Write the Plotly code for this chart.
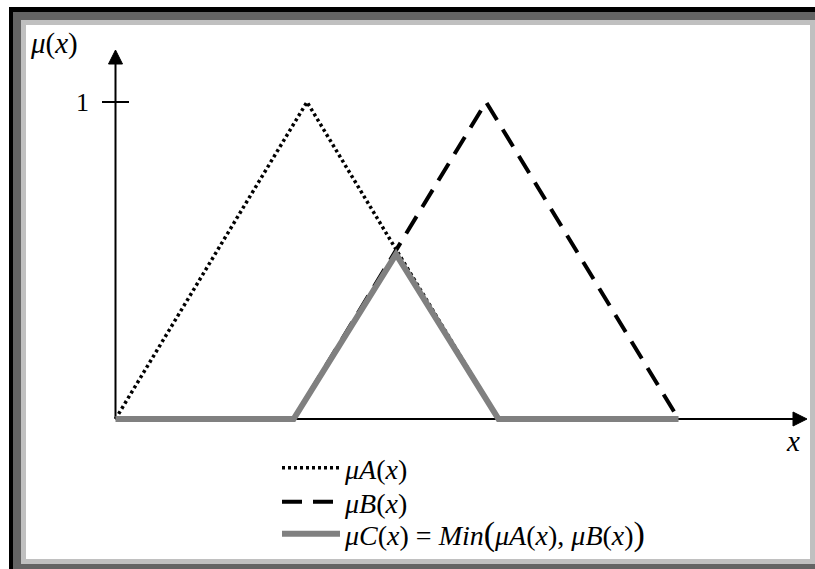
import plotly.graph_objects as go

# ---------------- data ----------------
a_x = [0, 2, 4]
a_y = [0, 1, 0]
b_x = [1.86, 3.87, 5.88]
b_y = [0, 1, 0]
c_x = [0, 1.86, 2.93, 4, 5.88]
c_y = [0, 0, 0.52, 0, 0]
y_ticks = [1]
y_tick_labels = ["1"]
names = ["<i>μA</i>(<i>x</i>)",
         "<i>μB</i>(<i>x</i>)",
         "<i>μC</i>(<i>x</i>) = <i>Min</i><span style='font-size:34px'>(</span><i>μA</i>(<i>x</i>), <i>μB</i>(<i>x</i>)<span style='font-size:34px'>)</span>"]

# ---------------- layout geometry (pixels) ----------------
W, H = 815, 569
X0, XS = 115.5, 95.75      # pixel of x=0, pixels per x unit
Y0, YS = 419.0, 317.0      # pixel of y=0, pixels per y unit

def dx(px):
    return (px - X0) / XS

def dy(py):
    return (Y0 - py) / YS

def px_(p):
    return p / W

def py_(p):
    return 1 - p / H

FONT = "Liberation Serif, Times New Roman, serif"

fig = go.Figure()
fig.add_trace(go.Scatter(x=a_x, y=a_y, mode="lines", name=names[0], legend="legend",
                         line=dict(color="black", width=3.5, dash="3px,3px")))
fig.add_trace(go.Scatter(x=b_x, y=b_y, mode="lines", name=names[1], legend="legend2",
                         line=dict(color="black", width=4, dash="20px,11px")))
fig.add_trace(go.Scatter(x=c_x, y=c_y, mode="lines", name=names[2], legend="legend3",
                         line=dict(color="#808080", width=6)))

shapes = []
# frame
shapes.append(dict(type="rect", xref="paper", yref="paper", layer="below",
                   x0=px_(9), x1=px_(W), y0=py_(7), y1=py_(H),
                   fillcolor="black", line=dict(width=0)))
shapes.append(dict(type="rect", xref="paper", yref="paper", layer="below",
                   x0=px_(13), x1=px_(W), y0=py_(12), y1=py_(H),
                   fillcolor="#646464", line=dict(width=0)))
shapes.append(dict(type="rect", xref="paper", yref="paper", layer="below",
                   x0=px_(21), x1=px_(W), y0=py_(20), y1=py_(564),
                   fillcolor="#c0c0c0", line=dict(width=0)))
shapes.append(dict(type="rect", xref="paper", yref="paper", layer="below",
                   x0=px_(26), x1=px_(810), y0=py_(25), y1=py_(559),
                   fillcolor="white", line=dict(width=0)))
# axes
shapes.append(dict(type="line", x0=0, x1=0, y0=0, y1=dy(60), layer="below",
                   line=dict(color="black", width=2)))
shapes.append(dict(type="line", x0=0, x1=dx(796), y0=0, y1=0, layer="below",
                   line=dict(color="black", width=2)))
# arrow heads
shapes.append(dict(type="path", layer="below",
                   path=f"M{dx(X0-7)},{dy(64)} L{dx(X0)},{dy(50)} L{dx(X0+7)},{dy(64)} Z",
                   fillcolor="black", line=dict(color="black", width=1)))
shapes.append(dict(type="path", layer="below",
                   path=f"M{dx(793)},{dy(Y0-7)} L{dx(807)},{dy(Y0)} L{dx(793)},{dy(Y0+7)} Z",
                   fillcolor="black", line=dict(color="black", width=1)))
# tick at y=1
for t in y_ticks:
    shapes.append(dict(type="line", x0=dx(102), x1=dx(129), y0=t, y1=t, layer="below",
                       line=dict(color="black", width=2)))

annotations = [
    dict(x=dx(91), y=y_ticks[0], text=y_tick_labels[0], showarrow=False,
         xanchor="right", yanchor="middle", font=dict(family=FONT, size=26, color="black")),
    dict(x=px_(28), y=py_(43), xref="paper", yref="paper", text="<i>μ</i>(<i>x</i>)",
         showarrow=False, xanchor="left", yanchor="middle",
         font=dict(family=FONT, size=29, color="black")),
    dict(x=dx(793), y=dy(441), text="<i>x</i>", showarrow=False,
         xanchor="center", yanchor="middle", font=dict(family=FONT, size=29, color="black")),
]

LEG_X = 277
IW = 58
def leg(row_center):
    return dict(x=px_(LEG_X), y=py_(row_center), xanchor="left", yanchor="middle",
                bgcolor="rgba(0,0,0,0)", borderwidth=0, itemwidth=IW,
                font=dict(family=FONT, size=28, color="black"))

fig.update_layout(
    width=W, height=H,
    margin=dict(l=0, r=0, t=0, b=0, pad=0),
    paper_bgcolor="white", plot_bgcolor="white",
    xaxis=dict(range=[dx(0), dx(W)], visible=False, fixedrange=True),
    yaxis=dict(range=[dy(H), dy(0)], visible=False, fixedrange=True),
    shapes=shapes, annotations=annotations,
    showlegend=True,
    legend=leg(468), legend2=leg(502), legend3=leg(534),
)

fig.write_html("out.html", config={"displayModeBar": False},
               post_script="document.body.style.margin='0';")
